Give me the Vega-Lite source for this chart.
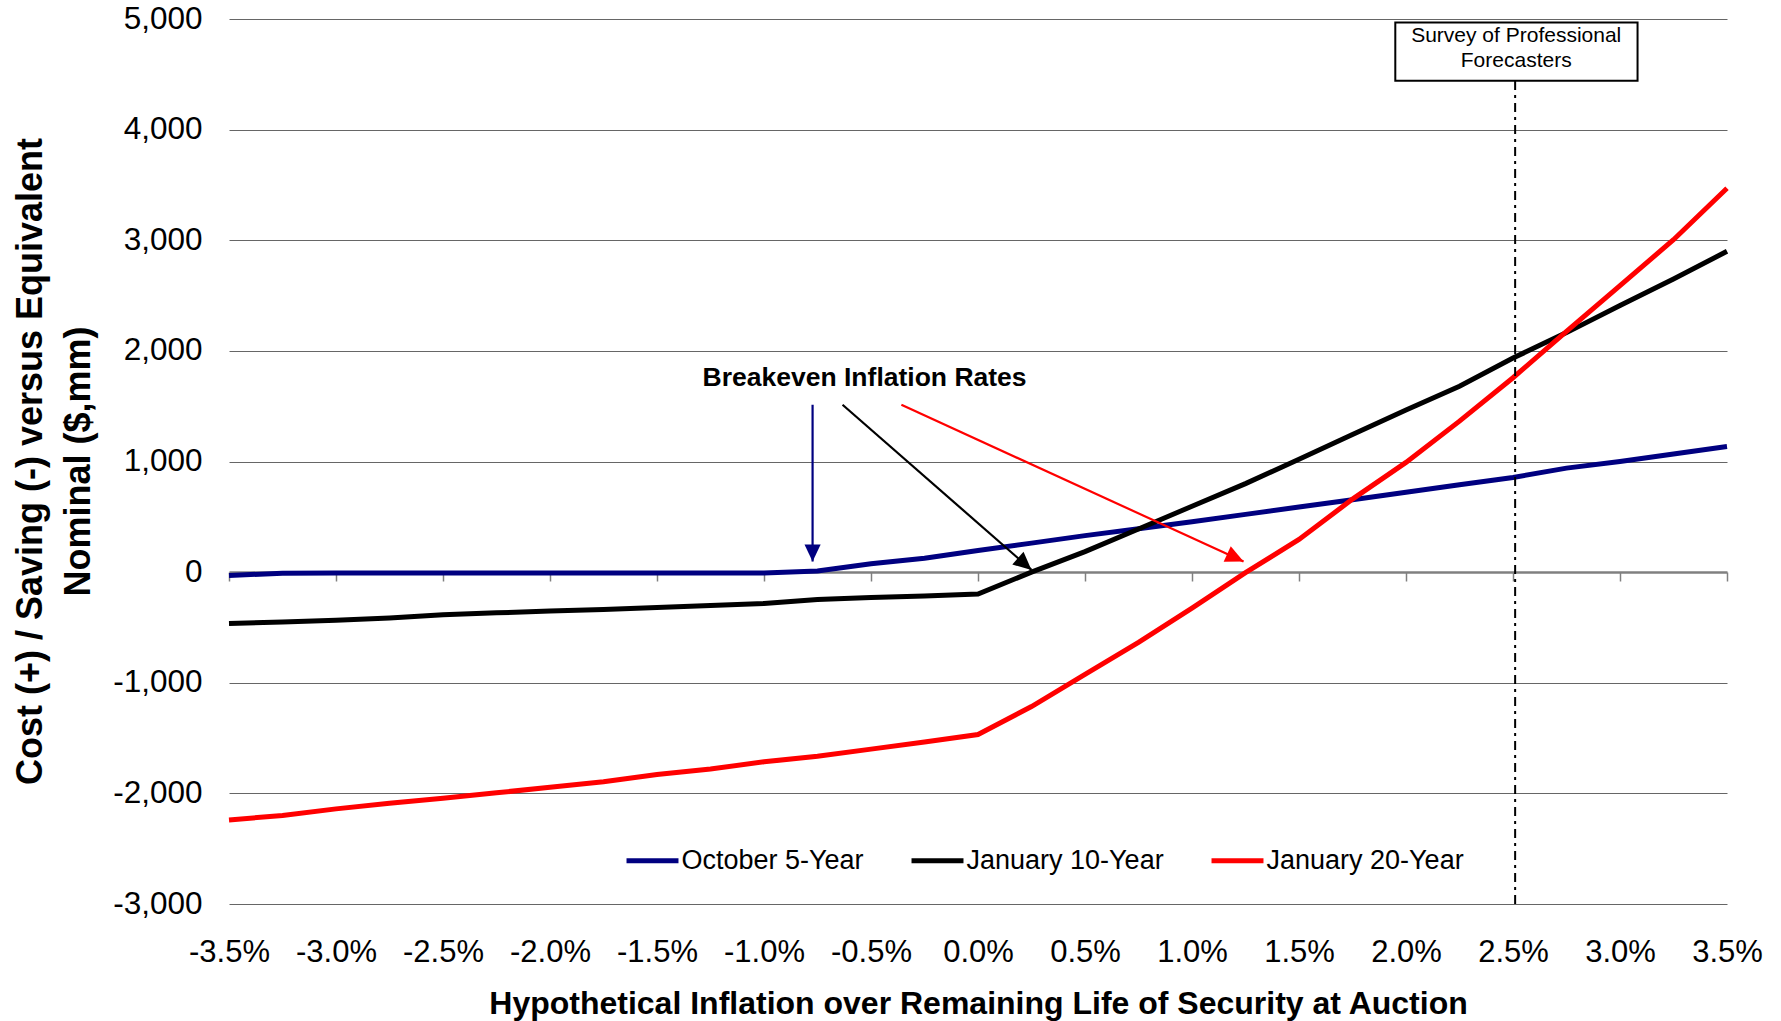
{
  "$schema": "https://vega.github.io/schema/vega-lite/v6.json",
  "width": 1498,
  "height": 885,
  "autosize": {"type": "none"},
  "padding": {"left": 229, "top": 19, "right": 54, "bottom": 117},
  "background": "white",
  "config": {
    "view": {"stroke": null},
    "font": "Liberation Sans",
    "axis": {"labelColor": "black", "titleColor": "black"},
    "legend": {"labelColor": "black"}
  },
  "datasets": {
    "wide": [
      {"x": -3.5, "oct5": -30, "jan10": -465, "jan20": -2240},
      {"x": -3.25, "oct5": -10, "jan10": -450, "jan20": -2200},
      {"x": -3.0, "oct5": -8, "jan10": -435, "jan20": -2140},
      {"x": -2.75, "oct5": -8, "jan10": -415, "jan20": -2090},
      {"x": -2.5, "oct5": -8, "jan10": -385, "jan20": -2045},
      {"x": -2.25, "oct5": -8, "jan10": -368, "jan20": -1995},
      {"x": -2.0, "oct5": -8, "jan10": -352, "jan20": -1945},
      {"x": -1.75, "oct5": -8, "jan10": -337, "jan20": -1895},
      {"x": -1.5, "oct5": -8, "jan10": -320, "jan20": -1830},
      {"x": -1.25, "oct5": -8, "jan10": -302, "jan20": -1780},
      {"x": -1.0, "oct5": -8, "jan10": -283, "jan20": -1715},
      {"x": -0.75, "oct5": 10, "jan10": -248, "jan20": -1665},
      {"x": -0.5, "oct5": 75, "jan10": -230, "jan20": -1600},
      {"x": -0.25, "oct5": 125, "jan10": -215, "jan20": -1535},
      {"x": 0.0, "oct5": 195, "jan10": -198, "jan20": -1468},
      {"x": 0.25, "oct5": 262, "jan10": 0, "jan20": -1215},
      {"x": 0.5, "oct5": 330, "jan10": 185, "jan20": -925},
      {"x": 0.75, "oct5": 392, "jan10": 390, "jan20": -635},
      {"x": 1.0, "oct5": 455, "jan10": 595, "jan20": -325},
      {"x": 1.25, "oct5": 522, "jan10": 800, "jan20": -5},
      {"x": 1.5, "oct5": 588, "jan10": 1020, "jan20": 295},
      {"x": 1.75, "oct5": 655, "jan10": 1245, "jan20": 660},
      {"x": 2.0, "oct5": 722, "jan10": 1465, "jan20": 992},
      {"x": 2.25, "oct5": 790, "jan10": 1680, "jan20": 1365},
      {"x": 2.5, "oct5": 856, "jan10": 1935, "jan20": 1757},
      {"x": 2.75, "oct5": 940, "jan10": 2165, "jan20": 2177},
      {"x": 3.0, "oct5": 1000, "jan10": 2410, "jan20": 2590},
      {"x": 3.25, "oct5": 1068, "jan10": 2650, "jan20": 3005},
      {"x": 3.5, "oct5": 1135, "jan10": 2900, "jan20": 3470}
    ],
    "arrows": [
      {"series": "October 5-Year", "x": -0.773, "y": 1513, "x2": -0.773, "y2": 96},
      {"series": "January 10-Year", "x": -0.633, "y": 1513, "x2": 0.25, "y2": 20},
      {"series": "January 20-Year", "x": -0.358, "y": 1513, "x2": 1.241, "y2": 96}
    ],
    "heads": [
      {"series": "October 5-Year", "x": -0.773, "y": 96},
      {"series": "January 10-Year", "x": 0.25, "y": 20},
      {"series": "January 20-Year", "x": 1.241, "y": 96}
    ],
    "spf": [
      {"x": 2.51, "y": -3000, "y2": 4442}
    ],
    "spfBox": [
      {"x": 1.95, "x2": 3.082, "y": 4442, "y2": 4969}
    ],
    "spfText": [
      {"x": 2.515, "y": 4849, "label": "Survey of Professional"},
      {"x": 2.515, "y": 4622, "label": "Forecasters"}
    ],
    "note": [
      {"x": -0.53, "y": 1757, "label": "Breakeven Inflation Rates"}
    ]
  },
  "encoding": {
    "x": {
      "field": "x", "type": "quantitative",
      "scale": {"domain": [-3.5, 3.5], "nice": false, "zero": false},
      "axis": null
    },
    "y": {
      "field": "y", "type": "quantitative",
      "scale": {"domain": [-3000, 5000], "nice": false},
      "axis": {
        "values": [-3000, -2000, -1000, 0, 1000, 2000, 3000, 4000, 5000],
        "labelExpr": "(datum.value < 0 ? '-' : '') + format(abs(datum.value), ',d')",
        "labelFontSize": 31.5,
        "labelPadding": 27,
        "ticks": false,
        "domain": false,
        "grid": true,
        "gridColor": {"condition": {"test": "datum.value === 0", "value": "transparent"}, "value": "#666666"},
        "gridWidth": 1,
        "title": ["Cost (+) / Saving (-) versus Equivalent", "Nominal ($,mm)"],
        "titleFontSize": 36,
        "titleFontWeight": "bold",
        "titleAngle": -90,
        "titleX": -199,
        "titleY": 442,
        "titleAlign": "center",
        "titleBaseline": "middle",
        "titleLineHeight": 48
      }
    }
  },
  "layer": [
    {
      "data": {"name": "wide"},
      "transform": [
        {"fold": ["oct5", "jan10", "jan20"], "as": ["key", "y"]},
        {"lookup": "key", "from": {"data": {"values": [
          {"key": "oct5", "series": "October 5-Year"},
          {"key": "jan10", "series": "January 10-Year"},
          {"key": "jan20", "series": "January 20-Year"}
        ]}, "key": "key", "fields": ["series"]}}
      ],
      "mark": {"type": "line", "strokeWidth": 5},
      "encoding": {
        "x": {
          "field": "x", "type": "quantitative",
          "scale": {"domain": [-3.5, 3.5], "nice": false, "zero": false},
          "axis": {
            "orient": "bottom",
            "values": [-3.5, -3, -2.5, -2, -1.5, -1, -0.5, 0, 0.5, 1, 1.5, 2, 2.5, 3, 3.5],
            "labelExpr": "(datum.value < 0 ? '-' : '') + format(abs(datum.value), '.1f') + '%'",
            "labelFontSize": 31,
            "labelPadding": 33,
            "labelFlush": false,
            "labelOverlap": false,
            "labelBound": false,
            "ticks": false,
            "domain": false,
            "grid": false,
            "title": "Hypothetical Inflation over Remaining Life of Security at Auction",
            "titleFontSize": 32,
            "titleFontWeight": "bold",
            "titleX": 749,
            "titleY": 99,
            "titleAlign": "center",
            "titleBaseline": "middle"
          }
        },
        "color": {
          "field": "series", "type": "nominal",
          "scale": {
            "domain": ["October 5-Year", "January 10-Year", "January 20-Year"],
            "range": ["#000080", "#000000", "#ff0000"]
          },
          "legend": {
            "orient": "none",
            "legendX": 395,
            "legendY": 813,
            "direction": "horizontal",
            "columns": 3,
            "columnPadding": 37,
            "padding": 0,
            "title": null,
            "symbolType": "stroke",
            "symbolSize": 2700,
            "symbolStrokeWidth": 5,
            "labelFontSize": 27,
            "labelOffset": 0.5,
            "labelLimit": 400
          }
        }
      }
    },
    {
      "data": {"name": "spf"},
      "mark": {"type": "rule", "color": "black", "strokeWidth": 2, "strokeDash": [9, 5, 3, 5]},
      "encoding": {
        "x": {
          "field": "x", "type": "quantitative",
          "scale": {"domain": [-3.5, 3.5], "nice": false, "zero": false},
          "axis": {
            "orient": "bottom",
            "offset": -332,
            "values": [-3.5, -3, -2.5, -2, -1.5, -1, -0.5, 0, 0.5, 1, 1.5, 2, 2.5, 3, 3.5],
            "labels": false,
            "title": null,
            "grid": false,
            "domain": true,
            "domainColor": "#808080",
            "domainWidth": 2.5,
            "ticks": true,
            "tickColor": "#808080",
            "tickWidth": 1.5,
            "tickSize": 9
          }
        },
        "y2": {"field": "y2"}
      }
    },
    {
      "data": {"name": "spfBox"},
      "mark": {"type": "rect", "fill": "white", "stroke": "black", "strokeWidth": 2},
      "encoding": {
        "x2": {"field": "x2"},
        "y2": {"field": "y2"}
      }
    },
    {
      "data": {"name": "spfText"},
      "mark": {"type": "text", "fontSize": 21, "color": "black", "align": "center", "baseline": "middle"},
      "encoding": {
        "text": {"field": "label"}
      }
    },
    {
      "data": {"name": "arrows"},
      "mark": {"type": "rule", "strokeWidth": 2.2},
      "encoding": {
        "x2": {"field": "x2"},
        "y2": {"field": "y2"},
        "color": {"field": "series", "type": "nominal", "legend": null}
      }
    },
    {
      "data": {"name": "heads"},
      "transform": [{"filter": "datum.series === 'October 5-Year'"}],
      "mark": {"type": "point", "filled": true, "opacity": 1, "shape": "M0,0L0.95,2L-0.95,2Z", "size": 289, "angle": 180},
      "encoding": {
        "color": {"field": "series", "type": "nominal", "legend": null}
      }
    },
    {
      "data": {"name": "heads"},
      "transform": [{"filter": "datum.series === 'January 10-Year'"}],
      "mark": {"type": "point", "filled": true, "opacity": 1, "shape": "M0,0L0.95,2L-0.95,2Z", "size": 324, "angle": 131},
      "encoding": {
        "color": {"field": "series", "type": "nominal", "legend": null}
      }
    },
    {
      "data": {"name": "heads"},
      "transform": [{"filter": "datum.series === 'January 20-Year'"}],
      "mark": {"type": "point", "filled": true, "opacity": 1, "shape": "M0,0L0.95,2L-0.95,2Z", "size": 324, "angle": 114.6},
      "encoding": {
        "color": {"field": "series", "type": "nominal", "legend": null}
      }
    },
    {
      "data": {"name": "note"},
      "mark": {"type": "text", "fontSize": 26.5, "fontWeight": "bold", "color": "black", "align": "center", "baseline": "middle"},
      "encoding": {
        "text": {"field": "label"}
      }
    }
  ],
  "resolve": {"axis": {"x": "independent"}}
}
